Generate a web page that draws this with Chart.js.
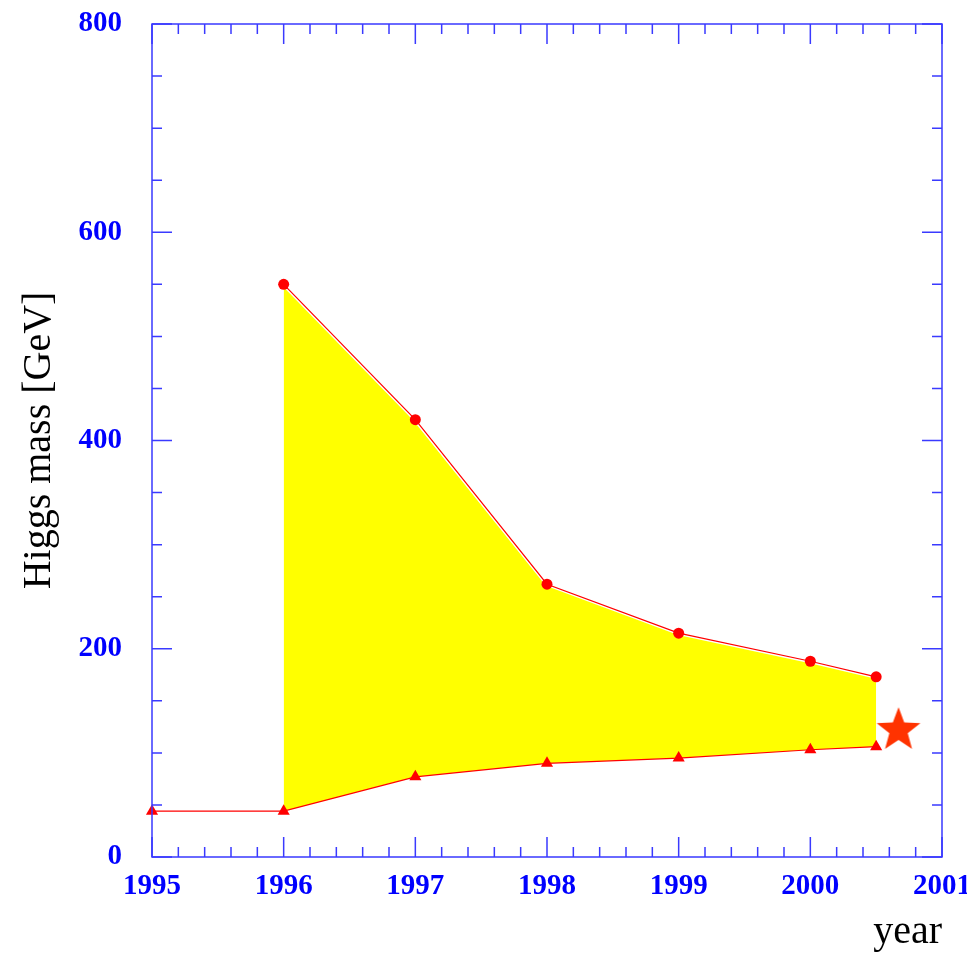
<!DOCTYPE html>
<html>
<head>
<meta charset="utf-8">
<script src="https://cdn.jsdelivr.net/npm/chart.js@4/dist/chart.umd.min.js"></script>
<style>
  html, body { margin: 0; padding: 0; background: #ffffff; }
  #wrap { width: 967px; height: 953px; }
</style>
</head>
<body>
<div id="wrap"><canvas id="c"></canvas></div>
<script>
// Allowed Higgs mass range per year: upper limit (circles) and lower limit (triangles)
const upperYears = [1996, 1997, 1998, 1999, 2000, 2000.5];
const upperLimit = [550, 420, 262, 215, 188, 173];
const lowerYears = [1995, 1996, 1997, 1998, 1999, 2000, 2000.5];
const lowerLimit = [44, 44, 77, 90, 95, 103, 106];
// Candidate signal marker
const starYear = [2000.67];
const starMass = [124];
// Axis ticks
const xTicks = [1995, 1996, 1997, 1998, 1999, 2000, 2001];
const yTicks = [0, 200, 400, 600, 800];

const AXIS_BLUE = '#3a3aff';
const LABEL_BLUE = '#0000ff';
const RED = '#ff0000';

function pts(xs, ys) { return xs.map((x, i) => ({ x: x, y: ys[i] })); }

// Filled five-pointed star used as a point style
function starImage(r, color) {
  const c = document.createElement('canvas');
  c.width = c.height = Math.ceil(r * 2 + 2);
  const g = c.getContext('2d');
  const cx = c.width / 2, cy = c.height / 2 + r * 0.1;
  g.beginPath();
  for (let i = 0; i < 10; i++) {
    const rad = i % 2 === 0 ? r : r * 0.42;
    const a = -Math.PI / 2 + i * Math.PI / 5;
    const px = cx + rad * Math.cos(a), py = cy + rad * Math.sin(a);
    if (i === 0) g.moveTo(px, py); else g.lineTo(px, py);
  }
  g.closePath();
  g.fillStyle = color;
  g.fill();
  return c;
}

// Box frame with inward major/minor ticks on all four sides
const framePlugin = {
  id: 'frame',
  afterDatasetsDraw(chart) {
    const { ctx, chartArea: a, scales: { x, y } } = chart;
    ctx.save();
    ctx.strokeStyle = AXIS_BLUE;
    ctx.lineWidth = 1.5;
    ctx.beginPath();
    ctx.rect(a.left, a.top, a.right - a.left, a.bottom - a.top);
    ctx.stroke();
    ctx.beginPath();
    // x ticks: major every year, minor every 0.2 year
    for (let k = 0; k <= 30; k++) {
      const v = x.min + k * 0.2;
      const px = x.getPixelForValue(v);
      const len = k % 5 === 0 ? 20 : 10;
      ctx.moveTo(px, a.bottom); ctx.lineTo(px, a.bottom - len);
      ctx.moveTo(px, a.top); ctx.lineTo(px, a.top + len);
    }
    // y ticks: major every 200, minor every 50
    for (let k = 0; k <= 16; k++) {
      const v = y.min + k * 50;
      const py = y.getPixelForValue(v);
      const len = k % 4 === 0 ? 20 : 10;
      ctx.moveTo(a.left, py); ctx.lineTo(a.left + len, py);
      ctx.moveTo(a.right, py); ctx.lineTo(a.right - len, py);
    }
    ctx.stroke();
    ctx.restore();
  }
};

const tickFont = { family: "'Liberation Serif', 'Times New Roman', serif", size: 29, weight: 'bold' };
const titleFont = { family: "'Liberation Serif', 'Times New Roman', serif", size: 40, weight: 'normal', lineHeight: 1 };

new Chart(document.getElementById('c'), {
  type: 'scatter',
  data: {
    datasets: [
      {
        label: 'upper limit',
        data: pts(upperYears, upperLimit),
        showLine: true,
        borderColor: RED,
        borderWidth: 1.2,
        backgroundColor: RED,
        pointStyle: 'circle',
        pointRadius: 5.5,
        pointBorderWidth: 0,
        clip: false,
        order: 1
      },
      {
        label: 'lower limit',
        data: pts(lowerYears, lowerLimit),
        showLine: true,
        borderColor: RED,
        borderWidth: 1.2,
        backgroundColor: RED,
        pointStyle: 'triangle',
        pointRadius: 7,
        pointBorderWidth: 0,
        clip: false,
        order: 1
      },
      {
        label: 'signal',
        data: pts(starYear, starMass),
        pointStyle: starImage(23, '#ff3300'),
        pointRadius: 23,
        clip: false,
        order: 0
      },
      {
        label: 'band top',
        data: pts(upperYears, upperLimit),
        showLine: true,
        borderColor: '#ffffff',
        borderWidth: 4,
        pointRadius: 0,
        backgroundColor: '#ffff00',
        fill: 4,
        order: 5
      },
      {
        label: 'band bottom',
        data: pts(lowerYears.slice(1), lowerLimit.slice(1)),
        showLine: true,
        borderWidth: 0,
        borderColor: 'rgba(0,0,0,0)',
        pointRadius: 0,
        fill: false,
        order: 6
      }
    ]
  },
  options: {
    responsive: true,
    maintainAspectRatio: false,
    animation: false,
    layout: { padding: { left: 0, top: 17, right: 25, bottom: 0 } },
    plugins: {
      legend: { display: false },
      tooltip: { enabled: false },
      filler: { propagate: false }
    },
    scales: {
      x: {
        type: 'linear',
        min: 1995,
        max: 2001,
        afterBuildTicks: s => { s.ticks = xTicks.map(v => ({ value: v })); },
        afterFit: s => { s.height = 96; s.paddingLeft = 0; s.paddingRight = 0; },
        grid: { display: false },
        border: { display: false },
        ticks: {
          color: LABEL_BLUE,
          font: tickFont,
          padding: 4,
          maxRotation: 0,
          callback: v => String(v)
        },
        title: {
          display: true,
          text: 'year',
          align: 'end',
          color: '#000000',
          font: titleFont,
          padding: { top: 0, bottom: 1 }
        }
      },
      y: {
        type: 'linear',
        min: 0,
        max: 800,
        afterBuildTicks: s => { s.ticks = yTicks.map(v => ({ value: v })); },
        afterFit: s => { s.width = 152; s.paddingTop = 0; s.paddingBottom = 0; },
        grid: { display: false },
        border: { display: false },
        ticks: {
          color: LABEL_BLUE,
          font: tickFont,
          padding: 22,
          callback: v => String(v)
        },
        title: {
          display: true,
          text: 'Higgs mass [GeV]',
          color: '#000000',
          font: titleFont,
          padding: { top: 19, bottom: 0 }
        }
      }
    }
  },
  plugins: [framePlugin]
});
</script>
</body>
</html>
